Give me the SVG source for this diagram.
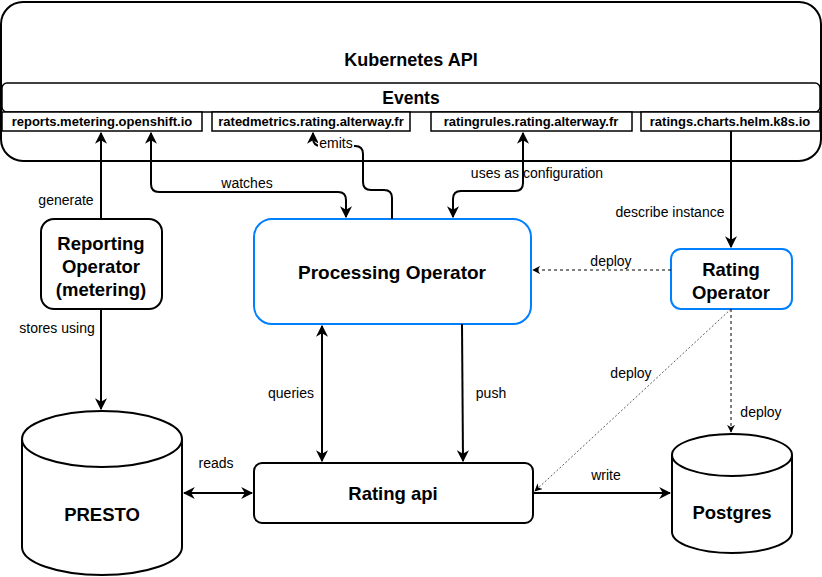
<svg xmlns="http://www.w3.org/2000/svg" width="822" height="577" viewBox="0 0 822 577">
<defs>
<style>
.box{fill:#fff;stroke:#000;stroke-width:2}
.blue{fill:#fff;stroke:#007FFF;stroke-width:2}
.sub{fill:#fff;stroke:#000;stroke-width:1.5}
.t{font-family:"Liberation Sans",Arial,sans-serif;font-weight:bold;text-anchor:middle;fill:#000}
.n{font-size:18.5px}
.l{font-family:"Liberation Sans",Arial,sans-serif;font-size:14px;text-anchor:middle;fill:#000}
.c{fill:none;stroke:#000;stroke-width:2}
.d{fill:none;stroke:#000;stroke-width:1;stroke-dasharray:3 3}
.dt{fill:none;stroke:#333;stroke-width:0.8;stroke-dasharray:2 2}
</style>
<marker id="a" viewBox="0 0 10 10" refX="9" refY="5" markerWidth="6" markerHeight="6" markerUnits="strokeWidth" orient="auto-start-reverse">
<path d="M0,0 L10,5 L0,10 L3,5 z" fill="#000"/>
</marker>
<marker id="ad" viewBox="0 0 10 10" refX="9" refY="5" markerWidth="8" markerHeight="8" markerUnits="userSpaceOnUse" orient="auto-start-reverse">
<path d="M0,0 L10,5 L0,10 L3,5 z" fill="#000"/>
</marker>
</defs>
<g id="k8s">
<rect class="box" x="1" y="2" width="820" height="159" rx="22"/>
<text class="t" x="411" y="66" font-size="18">Kubernetes API</text>
</g>
<g id="events">
<rect class="sub" x="2" y="83" width="818" height="29" rx="5"/>
<text class="t" x="411" y="104" font-size="17.5">Events</text>
</g>
<g id="reports">
<rect class="sub" x="2" y="112" width="200" height="19"/>
<text class="t" x="102" y="126" font-size="13">reports.metering.openshift.io</text>
</g>
<g id="ratedmetrics">
<rect class="sub" x="212" y="112" width="198" height="19"/>
<text class="t" x="311" y="126" font-size="13">ratedmetrics.rating.alterway.fr</text>
</g>
<g id="ratingrules">
<rect class="sub" x="431" y="112" width="201" height="19"/>
<text class="t" x="531" y="126" font-size="13">ratingrules.rating.alterway.fr</text>
</g>
<g id="ratings">
<rect class="sub" x="641" y="112" width="179" height="19"/>
<text class="t" x="730" y="126" font-size="13">ratings.charts.helm.k8s.io</text>
</g>
<g id="reporting">
<rect class="box" x="41" y="219" width="121" height="90" rx="13"/>
<text class="t n"><tspan x="101" y="250">Reporting</tspan><tspan x="101" y="273">Operator</tspan><tspan x="101" y="296">(metering)</tspan></text>
</g>
<g id="processing">
<rect class="blue" x="254" y="219" width="277" height="105" rx="18"/>
<text class="t" x="392" y="279" font-size="19">Processing Operator</text>
</g>
<g id="ratingop">
<rect class="blue" x="671" y="249" width="121" height="60" rx="10"/>
<text class="t n"><tspan x="731" y="276">Rating</tspan><tspan x="731" y="299">Operator</tspan></text>
</g>
<g id="presto">
<path class="box" d="M22,439 A80,28 0 0 1 182,439 L182,547 A80,28 0 0 1 22,547 Z"/>
<path class="c" d="M22,439 A80,28 0 0 0 182,439"/>
<text class="t n" x="102" y="521">PRESTO</text>
</g>
<g id="ratingapi">
<rect class="box" x="254" y="463" width="279" height="60" rx="8"/>
<text class="t n" x="393" y="500">Rating api</text>
</g>
<g id="postgres">
<path class="box" d="M672,455 A60,21 0 0 1 792,455 L792,532 A60,21 0 0 1 672,532 Z"/>
<path class="c" d="M672,455 A60,21 0 0 0 792,455"/>
<text class="t n" x="732" y="519">Postgres</text>
</g>
<g id="connectors">
<path class="c" d="M101,219 L101,133" marker-end="url(#a)"/>
<text class="l" x="66" y="205">generate</text>
<path class="c" d="M151,133 L151,184 Q151,192 159,192 L338,192 Q346,192 346,200 L346,217" marker-start="url(#a)" marker-end="url(#a)"/>
<text class="l" x="247" y="188">watches</text>
<path class="c" d="M392,219 L392,198 Q392,190 384,190 L371,190 Q363,190 363,182 L363,154 Q363,146 355,146 L321,146 Q313,146 313,138 L313,133" marker-end="url(#a)"/>
<rect x="318" y="137" width="36" height="12" fill="#fff"/>
<text class="l" x="336" y="148">emits</text>
<path class="c" d="M523,133 L523,183 Q523,191 515,191 L461,191 Q453,191 453,199 L453,217" marker-start="url(#a)" marker-end="url(#a)"/>
<text class="l" x="537" y="178">uses as configuration</text>
<path class="c" d="M731,131 L731,247" marker-end="url(#a)"/>
<text class="l" x="670" y="217">describe instance</text>
<path class="d" d="M671,270 L533,270" marker-end="url(#ad)"/>
<text class="l" x="611" y="266">deploy</text>
<path class="c" d="M101,309 L101,409" marker-end="url(#a)"/>
<text class="l" x="57" y="333">stores using</text>
<path class="c" d="M322,326 L322,461" marker-start="url(#a)" marker-end="url(#a)"/>
<text class="l" x="291" y="398">queries</text>
<path class="c" d="M462,324 L463,461" marker-end="url(#a)"/>
<text class="l" x="491" y="398">push</text>
<path class="c" d="M184,493 L252,493" marker-start="url(#a)" marker-end="url(#a)"/>
<text class="l" x="216" y="468">reads</text>
<path class="c" d="M533,493 L670,493" marker-end="url(#a)"/>
<text class="l" x="606" y="480">write</text>
<path class="dt" d="M731,309 L535,491" marker-end="url(#ad)"/>
<text class="l" x="631" y="378">deploy</text>
<path class="d" d="M731,309 L731,432" marker-end="url(#ad)"/>
<text class="l" x="761" y="417">deploy</text>
</g>
</svg>
